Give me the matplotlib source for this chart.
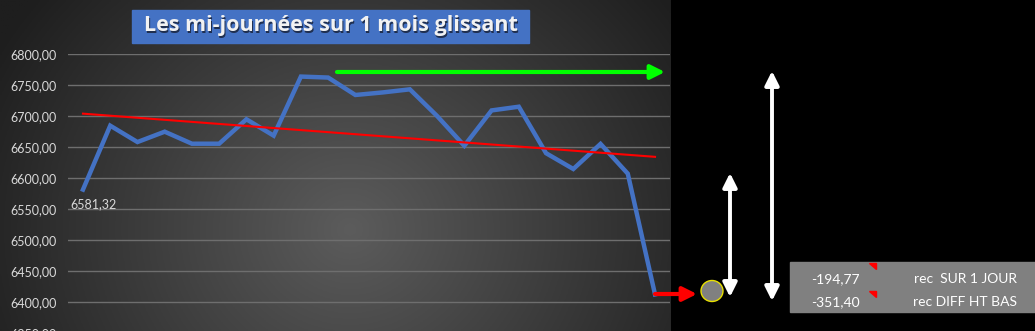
import numpy as np
import matplotlib
matplotlib.use("Agg")
import matplotlib.pyplot as plt
from matplotlib.ticker import FuncFormatter
from matplotlib.patches import Rectangle, Ellipse, Polygon

# valeurs des mi-journees (1 mois glissant)
jours = np.arange(22)
valeurs = [6581.32, 6684.4, 6658.0, 6674.7, 6655.3, 6655.3, 6694.7, 6668.3,
           6763.6, 6762.0, 6733.9, 6738.0, 6743.0, 6700.0, 6652.0, 6709.0,
           6715.0, 6640.0, 6614.5, 6655.0, 6607.0, 6412.2]
y_ticks = [6350, 6400, 6450, 6500, 6550, 6600, 6650, 6700, 6750, 6800]
titre = "Les mi-journées sur 1 mois glissant"
tab_valeurs = ["-194,77", "-351,40"]
tab_libelles = ["rec  SUR 1 JOUR", "rec DIFF HT BAS"]

W, H = 1035, 331
plt.rcParams['font.family'] = ['Lato', 'DejaVu Sans']

fig = plt.figure(figsize=(W / 100, H / 100), dpi=100, facecolor='black')


def fx(px):
    return px / W


def fy(py):
    return 1 - py / H


# fond en degrade (zone graphique)
bg = fig.add_axes([0, 0, fx(671), 1])
gx, gy = np.meshgrid(np.linspace(0, 671, 300), np.linspace(0, H, 150))
r = np.sqrt(((gx - 350) / 360) ** 2 + ((gy - 230) / 330) ** 2)
lum = np.clip(92 - 55 * r, 30, 95) / 255
bg.imshow(np.dstack([lum, lum, lum]), aspect='auto', extent=[0, 1, 0, 1])
bg.axis('off')

# zone de trace
ax = fig.add_axes([fx(68), fy(333), fx(670) - fx(68), fy(54) - fy(333)])
ax.patch.set_alpha(0)
ax.plot(jours, valeurs, color='#4472C4', lw=3.2, solid_joinstyle='miter', zorder=3)

# courbe de tendance lineaire
a, b = np.polyfit(jours, valeurs, 1)
ax.plot(jours, a * jours + b, color='#ff0000', lw=1.5, zorder=4)

ax.annotate("6581,32", xy=(jours[0], valeurs[0]), xytext=(-13, -15),
            textcoords='offset pixels', color='#d9d9d9', fontsize=9,
            ha='left', va='center')

ax.set_xlim(-0.55, 21.55)
ax.set_ylim(6350, 6800)
ax.set_yticks(y_ticks)
ax.yaxis.set_major_formatter(FuncFormatter(lambda v, p: ("%.2f" % v).replace('.', ',')))
ax.set_xticks([])
ax.tick_params(axis='y', length=0, pad=8, labelcolor='#d9d9d9', labelsize=9)
ax.grid(axis='y', color='#6e6e6e', lw=1)
for s in ax.spines.values():
    s.set_visible(False)

# titre
fig.patches.append(Rectangle((fx(132), fy(43)), fx(529) - fx(132), fy(10) - fy(43),
                             transform=fig.transFigure, color='#4472C4', zorder=5))
fig.text(fx(330.5) + 0.001, fy(26) - 0.005, titre, color='#1f2f50', fontsize=15.5,
         fontweight='bold', family='Open Sans', ha='center', va='center', zorder=6)
fig.text(fx(330.5), fy(26), titre, color='#f2f2f2', fontsize=15.5,
         fontweight='bold', family='Open Sans', ha='center', va='center', zorder=7)


def fleche(x0, y0, x1, y1, couleur, style='-|>', lw=3):
    fig.add_artist(matplotlib.patches.FancyArrowPatch(
        (fx(x0), fy(y0)), (fx(x1), fy(y1)), transform=fig.transFigure,
        arrowstyle=style, mutation_scale=21, lw=lw, color=couleur,
        shrinkA=0, shrinkB=0, zorder=8))


fleche(337, 72, 665, 72, '#00ff00')
fleche(655, 294, 697, 294, '#ff0000')
fleche(730, 173, 730, 297, 'white', style='<|-|>', lw=2.8)
fleche(772, 71, 772, 301, 'white', style='<|-|>', lw=2.8)

fig.add_artist(Ellipse((fx(712), fy(291)), fx(22), 21 / H, transform=fig.transFigure,
                       facecolor='#808080', edgecolor='#e8e000', lw=1, zorder=8))

# petit tableau recapitulatif
fig.add_artist(Rectangle((fx(790), fy(312)), fx(245), 50 / H, transform=fig.transFigure,
                         color='#808080', zorder=5))
for i, (v, lib) in enumerate(zip(tab_valeurs, tab_libelles)):
    yy = 279 + i * 23
    fig.text(fx(835), fy(yy), v, color='white', fontsize=10, ha='center', va='center', zorder=6)
    fig.text(fx(1017), fy(yy), lib, color='white', fontsize=10, ha='right', va='center', zorder=6)
    yt = 263 + i * 28
    fig.add_artist(Polygon([(fx(869), fy(yt)), (fx(876), fy(yt)), (fx(876), fy(yt + 6))],
                           closed=True, transform=fig.transFigure, color='#ff0000', zorder=6))

fig.savefig("out.png", dpi=100, facecolor='black')
